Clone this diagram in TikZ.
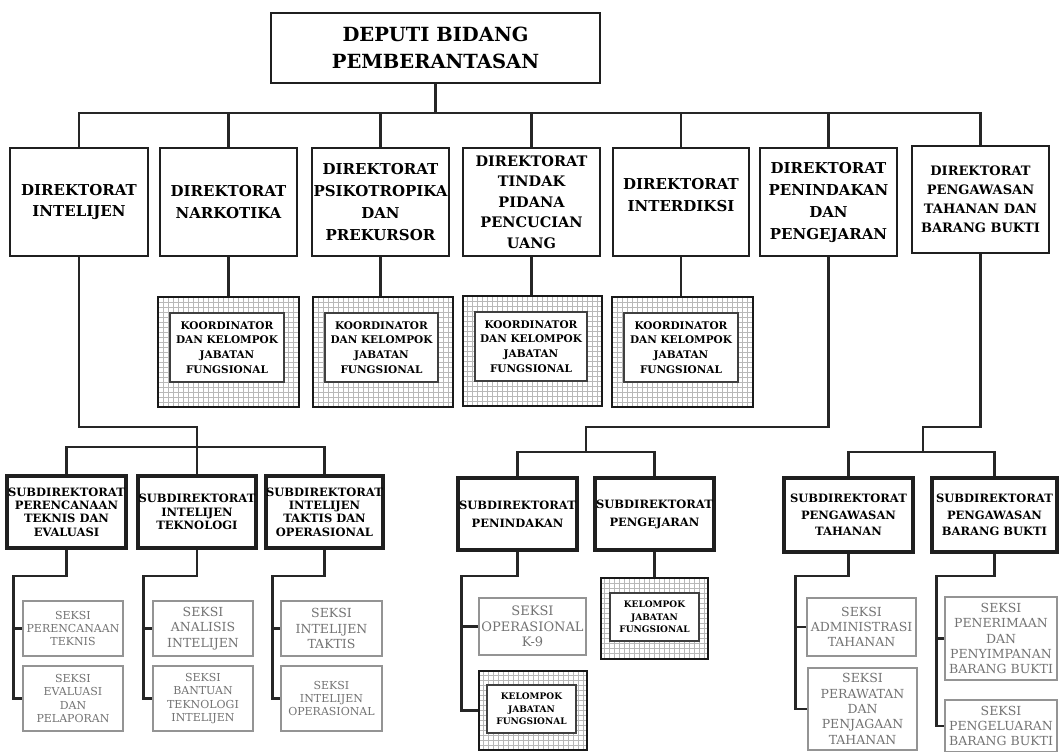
\documentclass[tikz,border=0pt]{standalone}
\usepackage{fontspec}
\setmainfont{DejaVu Serif}
\begin{document}
\begin{tikzpicture}[x=1pt,y=-1pt]
\tikzset{
 dirbox/.style={draw=black!88, line width=2.5pt, fill=white, align=center, inner sep=0pt, font=\fontsize{15}{21.5}\selectfont\bfseries},
 dirtext/.style={align=center, inner sep=0pt, font=\fontsize{15}{21.5}\selectfont\bfseries},
 topbox/.style={dirbox, font=\fontsize{19.5}{27}\selectfont\bfseries},
 subbox/.style={draw=black!88, line width=3.2pt, fill=white, align=center, inner sep=0pt, font=\fontsize{11.5}{13.4}\selectfont\bfseries},
 seksi/.style={draw=black!42, line width=1.6pt, fill=white, align=center, inner sep=0pt, text=black!55, font=\fontsize{12.5}{14.5}\selectfont},
 kouter/.style={draw=black!90, line width=2.8pt, fill=white, inner sep=0pt,
   path picture={\draw[draw=black!28, line width=0.8pt, step=5pt] (path picture bounding box.south west) grid (path picture bounding box.north east);}},
 kinner/.style={draw=black!75, line width=1.4pt, fill=white, align=center, inner sep=0pt, font=\fontsize{10.5}{14.8}\selectfont\bfseries},
 conn/.style={draw=black!85, line width=2.7pt},
}
\useasboundingbox (0,0) rectangle (1061,752);

% top
\node[topbox, minimum width=329pt, minimum height=70pt] (top) at (435.5,48) {DEPUTI BIDANG\\PEMBERANTASAN};

% directorates
\node[dirbox, minimum width=138pt, minimum height=108pt] (d1) at (79,202) {DIREKTORAT\\INTELIJEN};
\node[dirbox, minimum width=137pt, minimum height=108pt] (d2) at (228.5,202) {DIREKTORAT\\NARKOTIKA};
\node[dirbox, minimum width=137pt, minimum height=108pt, font=\fontsize{15}{22}\selectfont\bfseries] (d3) at (380.5,202) {DIREKTORAT\\PSIKOTROPIKA\\DAN\\PREKURSOR};
\node[dirbox, minimum width=137pt, minimum height=108pt, font=\fontsize{14.5}{20.5}\selectfont\bfseries] (d4) at (531.5,202) {DIREKTORAT\\TINDAK\\PIDANA\\PENCUCIAN\\UANG};
\node[dirbox, minimum width=136pt, minimum height=108pt] (d5) at (681,202) {};
\node[dirtext] (d5t) at (681,195) {DIREKTORAT\\INTERDIKSI};
\node[dirbox, minimum width=137pt, minimum height=108pt, font=\fontsize{15}{22}\selectfont\bfseries] (d6) at (828.5,202) {DIREKTORAT\\PENINDAKAN\\DAN\\PENGEJARAN};
\node[dirbox, minimum width=137pt, minimum height=107pt, font=\fontsize{13}{19}\selectfont\bfseries] (d7) at (980.5,199.5) {DIREKTORAT\\PENGAWASAN\\TAHANAN DAN\\BARANG BUKTI};

% koordinator boxes
\node[kouter, minimum width=141pt, minimum height=110pt] (k1) at (228.5,352) {};
\node[kinner, minimum width=114pt, minimum height=69pt] (k1i) at (227,347.5) {KOORDINATOR\\DAN KELOMPOK\\JABATAN\\FUNGSIONAL};
\node[kouter, minimum width=140pt, minimum height=110pt] (k2) at (383,352) {};
\node[kinner, minimum width=113pt, minimum height=69pt] (k2i) at (381.5,347.5) {KOORDINATOR\\DAN KELOMPOK\\JABATAN\\FUNGSIONAL};
\node[kouter, minimum width=139pt, minimum height=110pt] (k3) at (532.5,351) {};
\node[kinner, minimum width=112pt, minimum height=69pt] (k3i) at (531,346.5) {KOORDINATOR\\DAN KELOMPOK\\JABATAN\\FUNGSIONAL};
\node[kouter, minimum width=141pt, minimum height=110pt] (k4) at (682.5,352) {};
\node[kinner, minimum width=114pt, minimum height=69pt] (k4i) at (681,347.5) {KOORDINATOR\\DAN KELOMPOK\\JABATAN\\FUNGSIONAL};

% subdirectorates
\node[subbox, minimum width=119pt, minimum height=72pt] (s1) at (66.5,512) {SUBDIREKTORAT\\PERENCANAAN\\TEKNIS DAN\\EVALUASI};
\node[subbox, minimum width=118pt, minimum height=72pt] (s2) at (197,512) {SUBDIREKTORAT\\INTELIJEN\\TEKNOLOGI};
\node[subbox, minimum width=117pt, minimum height=72pt] (s3) at (324.5,512) {SUBDIREKTORAT\\INTELIJEN\\TAKTIS DAN\\OPERASIONAL};
\node[subbox, minimum width=119pt, minimum height=72pt, font=\fontsize{11.5}{18}\selectfont\bfseries] (p1) at (517.5,514) {SUBDIREKTORAT\\PENINDAKAN};
\node[subbox, minimum width=119pt, minimum height=72pt, font=\fontsize{11.5}{18}\selectfont\bfseries] (p2) at (654.5,514) {SUBDIREKTORAT\\PENGEJARAN};
\node[subbox, minimum width=129pt, minimum height=74pt, font=\fontsize{11.5}{16.5}\selectfont\bfseries] (w1) at (848.5,515) {SUBDIREKTORAT\\PENGAWASAN\\TAHANAN};
\node[subbox, minimum width=125pt, minimum height=74pt, font=\fontsize{11.5}{16.5}\selectfont\bfseries] (w2) at (994.5,515) {SUBDIREKTORAT\\PENGAWASAN\\BARANG BUKTI};

% seksi
\node[seksi, minimum width=100pt, minimum height=55pt, font=\fontsize{11}{13.4}\selectfont] (s1a) at (73,628.5) {SEKSI\\PERENCANAAN\\TEKNIS};
\node[seksi, minimum width=100pt, minimum height=65pt, font=\fontsize{11}{13.4}\selectfont] (s1b) at (73,698.5) {SEKSI\\EVALUASI\\DAN\\PELAPORAN};
\node[seksi, minimum width=100pt, minimum height=55pt, font=\fontsize{12.5}{15.5}\selectfont] (s2a) at (203,628.5) {SEKSI\\ANALISIS\\INTELIJEN};
\node[seksi, minimum width=100pt, minimum height=65pt, font=\fontsize{11}{13.4}\selectfont] (s2b) at (203,698.5) {SEKSI\\BANTUAN\\TEKNOLOGI\\INTELIJEN};
\node[seksi, minimum width=101pt, minimum height=55pt, font=\fontsize{12.5}{15.5}\selectfont] (s3a) at (331.5,628.5) {SEKSI\\INTELIJEN\\TAKTIS};
\node[seksi, minimum width=101pt, minimum height=65pt, font=\fontsize{11}{13.4}\selectfont] (s3b) at (331.5,698.5) {SEKSI\\INTELIJEN\\OPERASIONAL};
\node[seksi, minimum width=107pt, minimum height=57pt, font=\fontsize{13}{15.5}\selectfont] (k9) at (532.5,626.5) {SEKSI\\OPERASIONAL\\K-9};
\node[seksi, minimum width=109pt, minimum height=58pt, font=\fontsize{12.5}{15}\selectfont] (wa) at (861.5,627) {SEKSI\\ADMINISTRASI\\TAHANAN};
\node[seksi, minimum width=109pt, minimum height=82pt, font=\fontsize{12.5}{15.4}\selectfont] (wb) at (862.5,709) {SEKSI\\PERAWATAN\\DAN\\PENJAGAAN\\TAHANAN};
\node[seksi, minimum width=112pt, minimum height=83pt, font=\fontsize{12.5}{15.4}\selectfont] (wc) at (1001,638.5) {SEKSI\\PENERIMAAN\\DAN\\PENYIMPANAN\\BARANG BUKTI};
\node[seksi, minimum width=112pt, minimum height=52pt, font=\fontsize{12.5}{15.4}\selectfont] (wd) at (1001,726) {SEKSI\\PENGELUARAN\\BARANG BUKTI};

% kelompok jabatan fungsional
\node[kouter, minimum width=108pt, minimum height=79pt] (kl1) at (533,710.5) {};
\node[kinner, minimum width=89pt, minimum height=48pt, font=\fontsize{9}{12.5}\selectfont\bfseries] (kl1i) at (531.5,709) {KELOMPOK\\JABATAN\\FUNGSIONAL};
\node[kouter, minimum width=107pt, minimum height=81pt] (kl2) at (654.5,618.5) {};
\node[kinner, minimum width=89pt, minimum height=48pt, font=\fontsize{9}{12.5}\selectfont\bfseries] (kl2i) at (654.5,617) {KELOMPOK\\JABATAN\\FUNGSIONAL};

% level coordinates
\coordinate (busY) at (0,113);
\coordinate (lvA) at (0,427);
\coordinate (ibus) at (0,447);
\coordinate (pj) at (586,452);
\coordinate (wj) at (923,452);
\coordinate (lvS) at (0,576);

% connectors
\draw[conn] (top.south) -- (top.south |- busY);
\draw[conn] (d1.north) |- (d7.north |- busY) -- (d7.north);
\foreach \n in {d2,d3,d4,d5,d6} \draw[conn] (\n.north) -- (\n.north |- busY);
\draw[conn] (d2.south) -- (k1.north);
\draw[conn] (d3.south) -- (d3.south |- k2.north);
\draw[conn] (d4.south) -- (d4.south |- k3.north);
\draw[conn] (d5.south) -- (d5.south |- k4.north);
\draw[conn] (d1.south) -- (d1.south |- lvA) -| (s2.north);
\draw[conn] (s1.north) |- (s3.north |- ibus) -- (s3.north);
\draw[conn] (d6.south) -- (d6.south |- lvA) -| (pj);
\draw[conn] (p1.north) |- (pj) -| (p2.north);
\draw[conn] (d7.south) -- (d7.south |- lvA) -| (wj);
\draw[conn] (w1.north) |- (wj) -| (w2.north);
\draw[conn] (p2.south) -- (kl2.north);

\draw[conn] (s1.south) -- (s1.south |- lvS) -| ([xshift=-9pt]s1b.west) -- (s1b.west);
\draw[conn] ([xshift=-9pt]s1a.west) -- (s1a.west);
\draw[conn] (s2.south) -- (s2.south |- lvS) -| ([xshift=-9pt]s2b.west) -- (s2b.west);
\draw[conn] ([xshift=-9pt]s2a.west) -- (s2a.west);
\draw[conn] (s3.south) -- (s3.south |- lvS) -| ([xshift=-8pt]s3b.west) -- (s3b.west);
\draw[conn] ([xshift=-8pt]s3a.west) -- (s3a.west);
\draw[conn] (p1.south) -- (p1.south |- lvS) -| ([xshift=-16pt]kl1.west) -- (kl1.west);
\draw[conn] ([xshift=-16pt]k9.west) -- (k9.west);
\draw[conn] (w1.south) -- (w1.south |- lvS) -| ([xshift=-12pt]wb.west) -- (wb.west);
\draw[conn] ([xshift=-12pt]wa.west) -- (wa.west);
\draw[conn] (w2.south) -- (w2.south |- lvS) -| ([xshift=-8pt]wd.west) -- (wd.west);
\draw[conn] ([xshift=-8pt]wc.west) -- (wc.west);
\end{tikzpicture}
\end{document}
